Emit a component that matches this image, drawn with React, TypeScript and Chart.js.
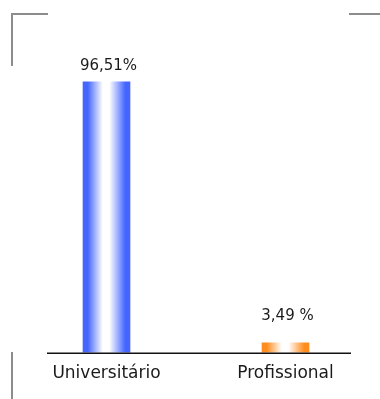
import React, { useEffect, useRef } from "react";
import { Chart, registerables } from "chart.js";

Chart.register(...registerables);

const categories: string[] = ["Universitário", "Profissional"];
const values: number[] = [96.51, 3.49];
const valueLabels: string[] = ["96,51%", "3,49 %"];
const edgeColors: string[] = ["#4466ff", "#ff8c1e"];

const W = 380;
const H = 399;

const decorPlugin = {
  id: "decor",
  beforeDraw(chart: any) {
    const ctx = chart.ctx;
    ctx.save();
    ctx.strokeStyle = "#8c8c8c";
    ctx.lineWidth = 2;
    ctx.beginPath();
    ctx.moveTo(12, 66);
    ctx.lineTo(12, 14);
    ctx.lineTo(48, 14);
    ctx.moveTo(349, 14);
    ctx.lineTo(380, 14);
    ctx.moveTo(12, 352);
    ctx.lineTo(12, 399);
    ctx.stroke();
    ctx.restore();
  },
  afterDatasetsDraw(chart: any) {
    const ctx = chart.ctx;
    const yBase = chart.scales.y.getPixelForValue(0);
    ctx.save();
    ctx.strokeStyle = "#111";
    ctx.lineWidth = 1.5;
    ctx.beginPath();
    ctx.moveTo(47, Math.round(yBase) + 0.25);
    ctx.lineTo(351, Math.round(yBase) + 0.25);
    ctx.stroke();
    ctx.fillStyle = "#1a1a1a";
    ctx.font = "15px 'DejaVu Sans'";
    ctx.textAlign = "center";
    ctx.textBaseline = "bottom";
    const meta = chart.getDatasetMeta(0);
    meta.data.forEach((bar: any, i: number) => {
      const h = yBase - bar.y;
      const gap = h < 30 ? 19 : 8;
      ctx.fillText(valueLabels[i], bar.x + 2, bar.y - gap);
    });
    ctx.restore();
  },
};

export default function App() {
  const ref = useRef<HTMLCanvasElement | null>(null);
  useEffect(() => {
    if (!ref.current) return;
    const chart = new Chart(ref.current, {
      type: "bar",
      data: {
        labels: categories,
        datasets: [
          {
            data: values,
            barThickness: 47,
            borderWidth: 0,
            backgroundColor: (c: any) => {
              const ch = c.chart;
              const i = c.dataIndex ?? 0;
              const base = edgeColors[i] || edgeColors[0];
              const xs = ch.scales && ch.scales.x;
              if (!xs || xs.width === undefined || !isFinite(xs.getPixelForValue(i))) return base;
              const cx = xs.getPixelForValue(i);
              const x0 = cx - 23.5;
              const x1 = cx + 23.5;
              const g = ch.ctx.createLinearGradient(x0, 0, x1, 0);
              g.addColorStop(0, base);
              g.addColorStop(0.1, base);
              g.addColorStop(0.42, "#ffffff");
              g.addColorStop(0.56, "#ffffff");
              g.addColorStop(0.9, base);
              g.addColorStop(1, base);
              return g;
            },
          },
        ],
      },
      options: {
        responsive: false,
        animation: false,
        devicePixelRatio: 1,
        layout: { padding: { left: 17, right: 5, top: 72, bottom: 4 } },
        plugins: { legend: { display: false }, tooltip: { enabled: false } },
        scales: {
          y: { display: false, min: 0, max: 100 },
          x: {
            grid: { display: false, drawTicks: false },
            border: { display: false },
            ticks: {
              color: "#1a1a1a",
              font: { family: "'DejaVu Sans'", size: 17 },
              padding: 11,
              maxRotation: 0,
            },
          },
        },
      },
      plugins: [decorPlugin],
    });
    return () => chart.destroy();
  }, []);
  return (
    <canvas
      ref={ref}
      width={W}
      height={H}
      style={{ position: "absolute", left: 0, top: 0, width: W, height: H }}
    />
  );
}
